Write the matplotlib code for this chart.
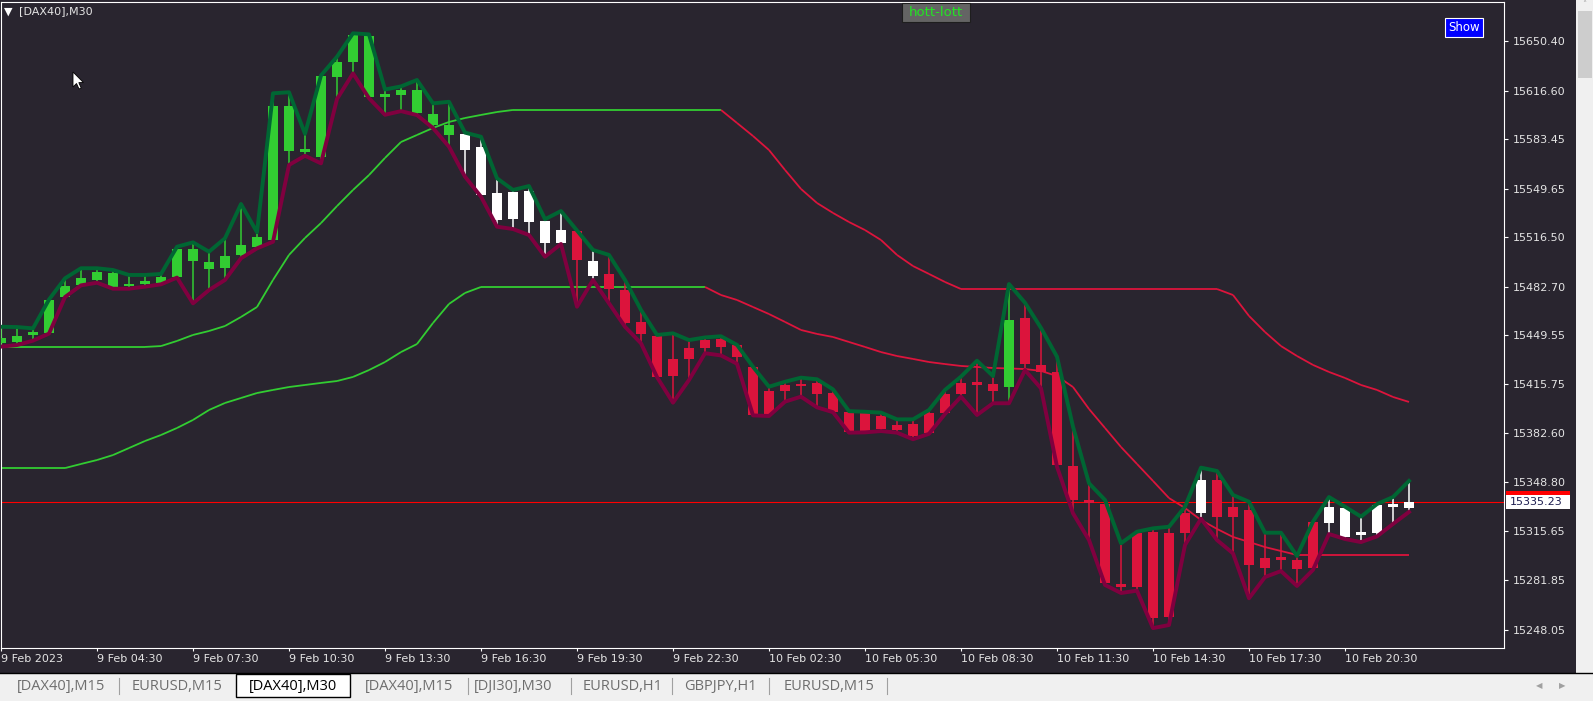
import matplotlib
matplotlib.use("Agg")
import matplotlib.pyplot as plt
from matplotlib.patches import Rectangle, Polygon
from matplotlib.collections import LineCollection
import matplotlib.transforms as mtransforms
import numpy as np

# ---------------- data ----------------
opens = [15443.9, 15445.0, 15449.6, 15450.7, 15475.8, 15483.7, 15487.2, 15491.7, 15483.5, 15485.1,
         15485.3, 15489.0, 15508.2, 15499.7, 15495.2, 15504.3, 15509.9, 15514.5, 15606.1, 15575.6,
         15571.4, 15625.7, 15636.4, 15654.2, 15612.9, 15613.8, 15617.0, 15600.6, 15593.1, 15587.0,
         15578.3, 15546.8, 15528.7, 15548.0, 15527.5, 15512.3, 15520.7, 15500.2, 15491.3, 15480.3,
         15458.5, 15448.9, 15421.7, 15433.2, 15440.5, 15446.8, 15442.5, 15427.5, 15395.6, 15411.5,
         15415.6, 15416.6, 15409.7, 15396.7, 15383.5, 15394.4, 15384.6, 15388.7, 15382.4, 15396.0,
         15409.2, 15416.6, 15416.1, 15413.8, 15461.0, 15429.1, 15424.5, 15360.0, 15336.8, 15334.0,
         15279.0, 15277.1, 15315.1, 15257.0, 15314.4, 15327.7, 15350.5, 15325.4, 15329.9, 15290.1,
         15296.9, 15295.8, 15290.1, 15320.9, 15331.5, 15314.2, 15314.0, 15333.2, 15331.1]
highs = [15455.2, 15455.0, 15454.1, 15473.8, 15488.3, 15495.2, 15495.2, 15494.0, 15490.6, 15490.6,
         15491.3, 15509.9, 15512.9, 15506.5, 15515.7, 15539.1, 15519.8, 15614.8, 15615.5, 15587.1,
         15627.0, 15639.8, 15655.8, 15655.1, 15617.4, 15619.5, 15623.9, 15607.9, 15609.0, 15587.9,
         15585.1, 15556.7, 15548.7, 15551.4, 15528.7, 15534.3, 15521.0, 15507.7, 15504.3, 15487.2,
         15466.7, 15449.6, 15450.7, 15446.1, 15447.9, 15448.7, 15442.8, 15427.8, 15414.2, 15417.6,
         15420.4, 15419.3, 15412.4, 15397.5, 15397.1, 15396.5, 15391.9, 15391.9, 15398.3, 15412.0,
         15421.1, 15432.0, 15421.5, 15484.4, 15471.6, 15454.4, 15434.7, 15386.9, 15348.2, 15336.8,
         15307.2, 15315.1, 15317.4, 15318.5, 15332.2, 15358.9, 15356.6, 15340.2, 15335.6, 15314.4,
         15314.4, 15298.5, 15322.0, 15338.8, 15332.2, 15325.4, 15334.0, 15338.8, 15349.8]
lows = [15441.6, 15442.7, 15445.7, 15450.5, 15475.5, 15483.5, 15485.3, 15481.2, 15481.2, 15482.6,
        15484.2, 15488.8, 15471.2, 15480.3, 15487.2, 15502.0, 15508.8, 15513.3, 15565.8, 15572.1,
        15566.9, 15610.9, 15628.4, 15611.4, 15600.1, 15602.6, 15599.9, 15591.0, 15578.3, 15557.8,
        15544.1, 15523.6, 15522.0, 15517.9, 15503.1, 15511.8, 15468.9, 15487.2, 15471.2, 15455.2,
        15443.9, 15420.8, 15403.3, 15418.8, 15437.1, 15435.6, 15429.9, 15394.6, 15394.2, 15404.0,
        15407.4, 15400.1, 15396.8, 15382.8, 15383.0, 15383.9, 15382.8, 15378.3, 15382.0, 15395.6,
        15407.4, 15394.9, 15402.9, 15402.9, 15425.6, 15413.1, 15359.5, 15327.7, 15309.4, 15278.7,
        15273.2, 15274.8, 15249.2, 15251.3, 15306.0, 15324.0, 15309.4, 15300.3, 15269.6, 15284.1,
        15288.2, 15278.0, 15289.0, 15313.5, 15310.1, 15308.0, 15311.9, 15320.4, 15328.6]
closes = [15447.3, 15448.9, 15451.8, 15473.5, 15483.1, 15488.3, 15492.8, 15482.6, 15483.9, 15485.5,
          15489.4, 15508.2, 15500.4, 15494.5, 15503.6, 15511.1, 15516.4, 15606.1, 15575.6, 15575.4,
          15626.6, 15636.4, 15654.6, 15612.0, 15613.3, 15617.2, 15601.1, 15593.1, 15586.3, 15576.0,
          15545.3, 15528.2, 15547.3, 15527.0, 15512.3, 15521.3, 15500.8, 15489.9, 15480.8, 15457.6,
          15450.3, 15421.1, 15433.2, 15440.9, 15446.4, 15441.6, 15434.7, 15394.9, 15411.5, 15415.7,
          15415.2, 15409.2, 15397.1, 15383.5, 15396.0, 15385.1, 15388.0, 15380.5, 15396.5, 15409.2,
          15416.6, 15416.2, 15411.5, 15459.8, 15429.7, 15424.5, 15360.7, 15336.8, 15334.5, 15279.8,
          15278.0, 15314.4, 15255.8, 15314.4, 15327.7, 15350.5, 15325.4, 15331.8, 15292.3, 15296.9,
          15296.5, 15289.4, 15321.5, 15332.2, 15311.2, 15313.8, 15333.4, 15332.8, 15335.23]
# trend colouring of each candle: g = green, w = white, r = red
candle_state = list("ggggggggggggggggggggggggggggg"
                    "wwwwwww" "r" "w"
                    "rrrrrrrrrrrrrrrrrrrrrrrrr" "g"
                    "rrrrrrrrrrr" "w" "rrrrrrr" "wwwwww")

upper_band = [15441.4, 15441.4, 15441.4, 15441.4, 15441.4, 15441.4, 15441.4, 15441.4, 15441.4, 15441.4,
              15442.0, 15445.5, 15449.6, 15452.3, 15455.7, 15461.9, 15468.7, 15487.2, 15504.3, 15515.9,
              15526.1, 15537.7, 15548.7, 15558.9, 15570.6, 15581.5, 15586.3, 15591.1, 15595.2, 15597.9,
              15600.0, 15602.0, 15603.4, 15603.4, 15603.4, 15603.4, 15603.4, 15603.4, 15603.4, 15603.4,
              15603.4, 15603.4, 15603.4, 15603.4, 15603.4, 15603.4, 15594.5, 15585.6, 15576.0, 15562.4,
              15549.4, 15539.8, 15533.0, 15526.8, 15521.3, 15514.5, 15504.3, 15496.7, 15491.3, 15485.8,
              15481.0, 15481.0, 15481.0, 15481.0, 15481.0, 15481.0, 15481.0, 15481.0, 15481.0, 15481.0,
              15481.0, 15481.0, 15481.0, 15481.0, 15481.0, 15481.0, 15481.0, 15476.9, 15462.6, 15451.6,
              15442.0, 15435.2, 15429.1, 15424.3, 15420.2, 15415.4, 15412.0, 15407.2, 15403.8]
lower_band = [15358.6, 15358.6, 15358.6, 15358.6, 15358.6, 15361.4, 15364.1, 15367.5, 15372.3, 15377.1,
              15381.2, 15386.0, 15391.5, 15398.3, 15403.1, 15406.5, 15409.9, 15412.0, 15414.0, 15415.4,
              15416.8, 15418.1, 15420.9, 15425.6, 15431.1, 15437.9, 15443.4, 15457.8, 15470.8, 15478.3,
              15482.4, 15482.4, 15482.4, 15482.4, 15482.4, 15482.4, 15482.4, 15482.4, 15482.4, 15482.4,
              15482.4, 15482.4, 15482.4, 15482.4, 15482.4, 15476.9, 15473.5, 15468.7, 15463.9, 15458.5,
              15453.0, 15450.3, 15448.2, 15444.8, 15441.4, 15437.9, 15435.2, 15433.2, 15431.1, 15429.7,
              15428.4, 15427.7, 15427.0, 15426.7, 15426.3, 15425.0, 15421.5, 15414.0, 15399.0, 15386.0,
              15373.0, 15361.4, 15349.8, 15338.1, 15331.3, 15323.1, 15317.0, 15311.5, 15308.1, 15304.6,
              15301.9, 15299.2, 15299.2, 15299.2, 15299.2, 15299.2, 15299.2, 15299.2, 15299.2]

price_ticks = [15650.40, 15616.60, 15583.45, 15549.65, 15516.50, 15482.70, 15449.55,
               15415.75, 15382.60, 15348.80, 15315.65, 15281.85, 15248.05]
time_tick_bars = [0, 6, 12, 18, 24, 30, 36, 42, 48, 54, 60, 66, 72, 78, 84]
time_labels = ["9 Feb 2023", "9 Feb 04:30", "9 Feb 07:30", "9 Feb 10:30", "9 Feb 13:30",
               "9 Feb 16:30", "9 Feb 19:30", "9 Feb 22:30", "10 Feb 02:30", "10 Feb 05:30",
               "10 Feb 08:30", "10 Feb 11:30", "10 Feb 14:30", "10 Feb 17:30", "10 Feb 20:30"]
current_price = 15335.23
price_range = (15235.6, 15677.2)
symbol_label = "[DAX40],M30"
tabs = ["[DAX40],M15", "EURUSD,M15", "[DAX40],M30", "[DAX40],M15", "[DJI30],M30",
        "EURUSD,H1", "GBPJPY,H1", "EURUSD,M15"]
active_tab = 2

# ---------------- style ----------------
W, H = 1593, 701
BG = "#29252F"
TXT = "#E4E4E4"
LIME = "#32CD32"
CRIMSON = "#DC143C"
HI_COL = "#006633"
LO_COL = "#80003F"
STATE_COL = {"g": LIME, "w": "#FFFFFF", "r": CRIMSON}

fig = plt.figure(figsize=(W / 100, H / 100), dpi=100)
fig.patch.set_facecolor(BG)


def fx(px):
    return px / W


def fy(py):
    return 1 - py / H


ax = fig.add_axes([fx(1), fy(648), fx(1504) - fx(1), fy(2) - fy(648)])
ax.set_facecolor(BG)
n = len(opens)
x = np.arange(n)
ax.set_xlim(0, 1503 / 16)
ax.set_ylim(*price_range)


# bands
def band_collection(vals):
    segs, cols = [], []
    d = 1
    for k in range(len(vals) - 1):
        diff = vals[k + 1] - vals[k]
        if diff > 0:
            d = 1
        elif diff < 0:
            d = -1
        segs.append([(x[k], vals[k]), (x[k + 1], vals[k + 1])])
        cols.append(LIME if d > 0 else CRIMSON)
    return LineCollection(segs, colors=cols, linewidths=1.3, zorder=1)


ax.add_collection(band_collection(upper_band))
ax.add_collection(band_collection(lower_band))

# current price line
ax.axhline(current_price, color="#FF0000", lw=0.8, zorder=1.5)

# candles
o = np.array(opens)
c = np.array(closes)
cols = [STATE_COL[s] for s in candle_state]
min_h = 1.8
body_h = np.abs(c - o)
mid = (o + c) / 2
bottoms = np.where(body_h < min_h, mid - min_h / 2, np.minimum(o, c))
heights = np.maximum(body_h, min_h)
ax.vlines(x, lows, highs, colors=cols, lw=1.1, zorder=3)
ax.bar(x, heights, bottom=bottoms, width=0.68, color=cols, linewidth=0, zorder=4)

# high / low lines
ax.plot(x, highs, color=HI_COL, lw=2.8, zorder=5, solid_joinstyle="round")
ax.plot(x, lows, color=LO_COL, lw=2.8, zorder=5, solid_joinstyle="round")

# axes styling
for s in ax.spines.values():
    s.set_color("white")
    s.set_linewidth(0.8)
ax.yaxis.tick_right()
ax.set_yticks(price_ticks)
ax.set_yticklabels([f"{v:.2f}" for v in price_ticks])
ax.tick_params(axis="y", colors="white", labelcolor=TXT, length=3, width=0.8,
               pad=3, labelsize=8, direction="out")
ax.set_xticks(time_tick_bars)
ax.set_xticklabels(time_labels, ha="left")
ax.tick_params(axis="x", colors="white", labelcolor=TXT, length=2.5, width=0.8,
               pad=2, labelsize=8, direction="out")

# current price label on the scale
trans = mtransforms.blended_transform_factory(ax.transAxes, ax.transData)
ax.add_patch(Rectangle((1.0012, current_price - 4.8), 0.0430, 9.6, transform=trans,
                       facecolor="white", edgecolor="none", clip_on=False, zorder=6))
ax.add_patch(Rectangle((1.0012, current_price + 4.8), 0.0430, 2.7, transform=trans,
                       facecolor="#FF0000", edgecolor="none", clip_on=False, zorder=6))
ax.text(1.0040, current_price, f"{current_price:.2f}", transform=trans, ha="left",
        va="center", fontsize=8, color="#1E1E50", zorder=7, clip_on=False)

# title & buttons
fig.text(fx(3.5), fy(11.5), "▼", fontsize=8, color="white", va="center", ha="left")
fig.text(fx(19), fy(11.5), symbol_label, fontsize=8, color=TXT, va="center", ha="left")

fig.add_artist(Rectangle((fx(902), fy(21.5)), fx(68), 19 / H, transform=fig.transFigure,
                         facecolor="#646464", edgecolor="#1E1E1E", lw=0.8))
fig.text(fx(936), fy(12), "hott-lott", fontsize=9.5, color="#22E622", ha="center", va="center")

fig.add_artist(Rectangle((fx(1445), fy(37)), fx(38), 19 / H, transform=fig.transFigure,
                         facecolor="#0000FF", edgecolor="white", lw=0.8))
fig.text(fx(1464), fy(27.5), "Show", fontsize=8.5, color="white", ha="center", va="center")

# mouse cursor
tip = (73, 72)
cur = [(0, 0), (0, 15), (3.5, 11.5), (6, 17), (8.2, 16), (5.8, 10.6), (10.5, 10.6)]
fig.add_artist(Polygon([(fx(tip[0] + a), fy(tip[1] + b)) for a, b in cur], closed=True,
                       transform=fig.transFigure, facecolor="white", edgecolor="black", lw=0.6))

# vertical scrollbar
fig.add_artist(Rectangle((fx(1576), fy(673)), fx(17), 673 / H, transform=fig.transFigure,
                         facecolor="#F0F0F0", edgecolor="none"))
fig.add_artist(Rectangle((fx(1578), fy(78)), fx(14), 67 / H, transform=fig.transFigure,
                         facecolor="#CDCDCD", edgecolor="none"))
fig.text(fx(1584.5), fy(4), "˄", fontsize=6, color="#A0A0A0", ha="center", va="center")

# bottom tab bar
fig.add_artist(Rectangle((0, 0), 1, (H - 673) / H, transform=fig.transFigure,
                         facecolor="#F0F0F0", edgecolor="none"))
fig.add_artist(plt.Line2D([0, 1], [fy(673), fy(673)], transform=fig.transFigure,
                          color="black", lw=1.0))
tab_centers = [61, 177, 293, 409, 513, 623, 720, 829]
fig.add_artist(Rectangle((fx(236), fy(697)), fx(114), 23 / H, transform=fig.transFigure,
                         facecolor="white", edgecolor="black", lw=1.0))
for k, (lab, cx) in enumerate(zip(tabs, tab_centers)):
    fig.text(fx(cx), fy(686.5), lab, fontsize=10.5, family="Open Sans",
             color="black" if k == active_tab else "#6E6E6E", ha="center", va="center")
for sx in [119, 468, 571, 672, 769, 887]:
    fig.add_artist(plt.Line2D([fx(sx), fx(sx)], [fy(678), fy(694)], transform=fig.transFigure,
                              color="#A0A0A0", lw=0.8))
fig.text(fx(1539), fy(686), "◀", fontsize=6, color="#A0A0A0", ha="center", va="center")
fig.text(fx(1562), fy(686), "▶", fontsize=6, color="#A0A0A0", ha="center", va="center")

fig.savefig("out.png", dpi=100, facecolor=BG)
